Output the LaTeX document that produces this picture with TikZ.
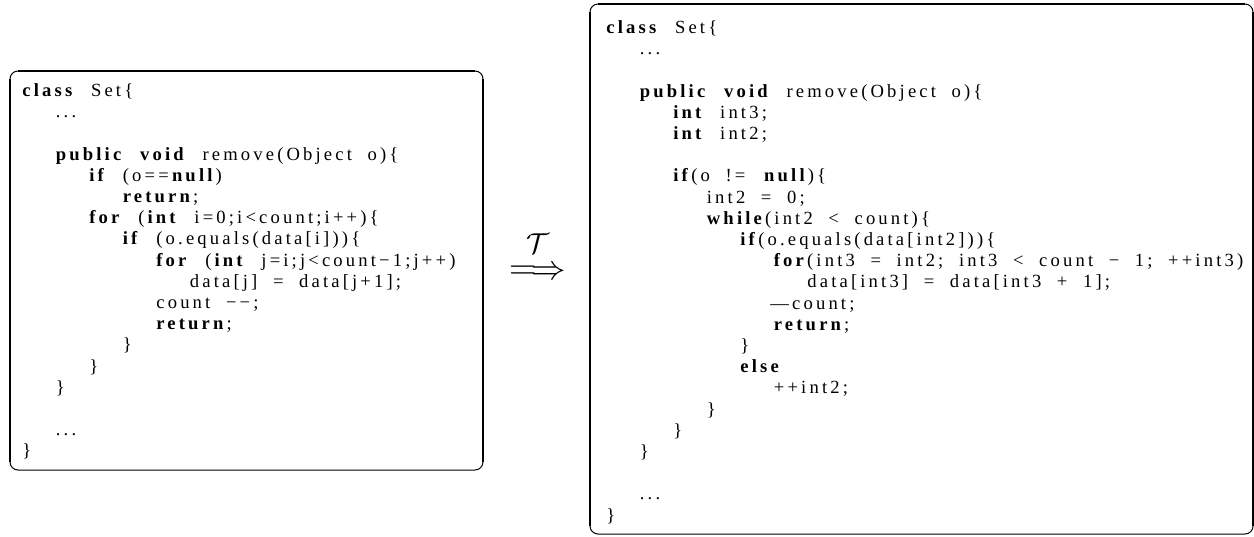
\documentclass[tikz,border=0pt]{standalone}
\usepackage{amsmath}
\usepackage{fontspec}
\usepackage{tikz}
\newfontfamily\codefont[LetterSpace=17,WordSpace=2.0]{Liberation Serif}
\newcommand\kw[1]{\textbf{#1}}

\begin{document}
\begin{tikzpicture}
    [ x = .5pt, y = -.5pt
    , code/.style =
      { anchor = base west, inner sep = 0pt, font = \fontsize{9.3pt}{11pt}\codefont }
    , frame/.style =
      { draw, line width = .5pt, rounded corners = 4pt }
    , frameedge/.style =
      { draw, line width = 1.2pt }
    , transform/.style =
      { inner sep = 0pt, font = \fontsize{19pt}{21pt}\selectfont }
    ]
    \useasboundingbox (0,0) rectangle (1254,536);

    % original method
    \draw [frame] (10,71) rectangle (483,470);
    \draw [frameedge] (10,462) -- (10,79);
    \draw [frameedge] (18,71) -- (475,71);
    \draw [frameedge] (483,79) -- (483,462);

    \node [code] (o0) at (22,96.5) {\kw{class} Set\{};
    \node [code] (o1) at (55.5,117.7) {...};
    \node [code] (o3) at (55.5,160.1) {\kw{public} \kw{void} remove(Object o)\{};
    \node [code] (o4) at (89,181.3) {\kw{if} (o==\kw{null})};
    \node [code] (o5) at (122.5,202.5) {\kw{return};};
    \node [code] (o6) at (89,223.7) {\kw{for} (\kw{int} i=0;i<count;i++)\{};
    \node [code] (o7) at (122.5,244.9) {\kw{if} (o.equals(data[i]))\{};
    \node [code] (o8) at (156,266.1) {\kw{for} (\kw{int} j=i;j<count−1;j++)};
    \node [code] (o9) at (189.5,287.3) {data[j] = data[j+1];};
    \node [code] (o10) at (156,308.5) {count −−;};
    \node [code] (o11) at (156,329.7) {\kw{return};};
    \node [code] (o12) at (122.5,350.9) {\}};
    \node [code] (o13) at (89,372.1) {\}};
    \node [code] (o14) at (55.5,393.3) {\}};
    \node [code] (o16) at (55.5,435.7) {...};
    \node [code] (o17) at (22,456.9) {\}};

    % transformation
    \node [transform] (arrow) at (538,255)
      {$\overset{\raisebox{3pt}{\fontsize{15pt}{15pt}\selectfont$\mathcal{T}$}}{\Longrightarrow}$};

    % transformed method
    \draw [frame] (590,4) rectangle (1253,534);
    \draw [frameedge] (590,526) -- (590,12);
    \draw [frameedge] (598,4) -- (1245,4);
    \draw [frameedge] (1253,12) -- (1253,526);

    \node [code] (t0) at (606,33.5) {\kw{class} Set\{};
    \node [code] (t1) at (639.5,54.7) {...};
    \node [code] (t3) at (639.5,97.1) {\kw{public} \kw{void} remove(Object o)\{};
    \node [code] (t4) at (673,118.3) {\kw{int} int3;};
    \node [code] (t5) at (673,139.5) {\kw{int} int2;};
    \node [code] (t7) at (673,181.9) {\kw{if}(o != \kw{null})\{};
    \node [code] (t8) at (706.5,203.1) {int2 = 0;};
    \node [code] (t9) at (706.5,224.3) {\kw{while}(int2 < count)\{};
    \node [code] (t10) at (740,245.5) {\kw{if}(o.equals(data[int2]))\{};
    \node [code] (t11) at (773.5,266.7) {\kw{for}(int3 = int2; int3 < count − 1; ++int3)};
    \node [code] (t12) at (807,287.9) {data[int3] = data[int3 + 1];};
    \node [code] (t13) at (770,309.1) {—count;};
    \node [code] (t14) at (773.5,330.3) {\kw{return};};
    \node [code] (t15) at (740,351.5) {\}};
    \node [code] (t16) at (740,372.7) {\kw{else}};
    \node [code] (t17) at (773.5,393.9) {++int2;};
    \node [code] (t18) at (706.5,415.1) {\}};
    \node [code] (t19) at (673,436.3) {\}};
    \node [code] (t20) at (639.5,457.5) {\}};
    \node [code] (t22) at (639.5,499.9) {...};
    \node [code] (t23) at (606,521.1) {\}};
\end{tikzpicture}
\end{document}
